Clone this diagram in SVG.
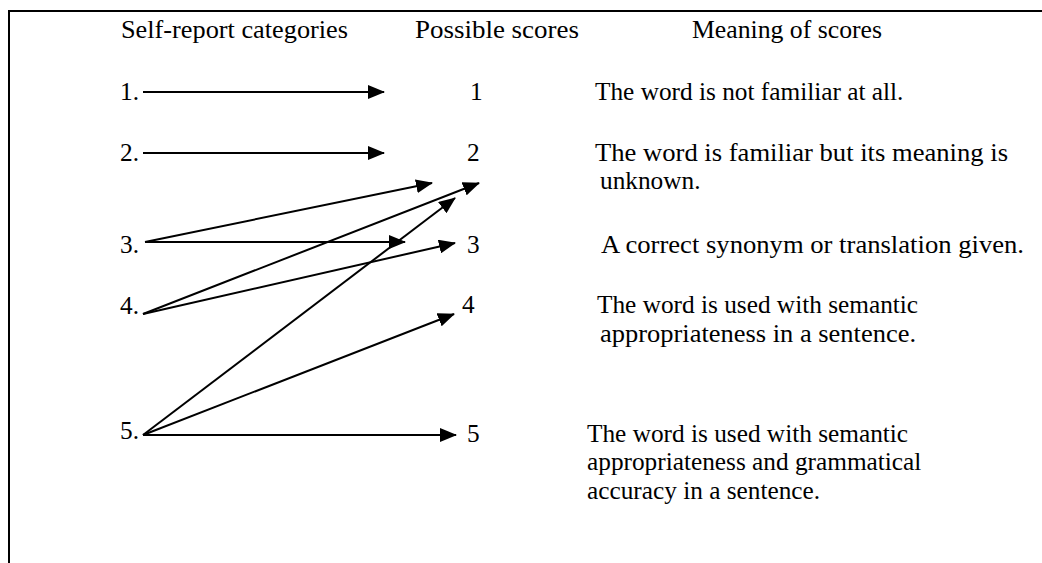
<svg xmlns="http://www.w3.org/2000/svg" width="1042" height="563" viewBox="0 0 1042 563">
<defs>
<style>
.c line{stroke:#000;stroke-width:2;fill:none;marker-end:url(#ah)}
.frame{stroke:#000;stroke-width:2;fill:none}
</style>
<marker id="ah" markerUnits="userSpaceOnUse" markerWidth="17" markerHeight="14" refX="16" refY="7" orient="auto">
<path d="M0,0 L17,7 L0,14 z" fill="#000"/>
</marker>
</defs>
<rect width="1042" height="563" fill="#fff"/>
<path class="frame" d="M9,563 V11 H1042"/>
<g font-family="'Liberation Serif', 'Times New Roman', serif" font-size="25.3" fill="#000">
<g id="headers">
<text x="121" y="38" textLength="227" lengthAdjust="spacingAndGlyphs">Self-report categories</text>
<text x="415" y="38" textLength="164" lengthAdjust="spacingAndGlyphs">Possible scores</text>
<text x="692" y="38" textLength="190" lengthAdjust="spacingAndGlyphs">Meaning of scores</text>
</g>
<g id="cat1"><text x="120" y="100">1.</text></g>
<g id="cat2"><text x="120" y="161">2.</text></g>
<g id="cat3"><text x="120" y="253">3.</text></g>
<g id="cat4"><text x="120" y="314">4.</text></g>
<g id="cat5"><text x="120" y="439">5.</text></g>
<g id="score1"><text x="470" y="100">1</text></g>
<g id="score2"><text x="467" y="161">2</text></g>
<g id="score3"><text x="467" y="253">3</text></g>
<g id="score4"><text x="462" y="313">4</text></g>
<g id="score5"><text x="467" y="442">5</text></g>
<g id="meaning1"><text x="595" y="100">The word is not familiar at all.</text></g>
<g id="meaning2"><text x="595" y="161" textLength="413" lengthAdjust="spacingAndGlyphs">The word is familiar but its meaning is</text><text x="600" y="189">unknown.</text></g>
<g id="meaning3"><text x="601" y="253" textLength="423" lengthAdjust="spacingAndGlyphs">A correct synonym or translation given.</text></g>
<g id="meaning4"><text x="597" y="313">The word is used with semantic</text><text x="600" y="342" textLength="316" lengthAdjust="spacingAndGlyphs">appropriateness in a sentence.</text></g>
<g id="meaning5"><text x="587" y="442">The word is used with semantic</text><text x="587" y="470">appropriateness and grammatical</text><text x="587" y="499">accuracy in a sentence.</text></g>
</g>
<g id="connectors" class="c">
<line x1="143" y1="92" x2="384" y2="92"/>
<line x1="143" y1="153" x2="384" y2="153"/>
<line x1="145" y1="242" x2="432" y2="183"/>
<line x1="145" y1="242" x2="405" y2="242"/>
<line x1="143" y1="314" x2="479" y2="183"/>
<line x1="143" y1="314" x2="455" y2="243"/>
<line x1="143" y1="435" x2="455" y2="198"/>
<line x1="143" y1="435" x2="454" y2="314"/>
<line x1="143" y1="435" x2="456" y2="435"/>
</g>
</svg>
